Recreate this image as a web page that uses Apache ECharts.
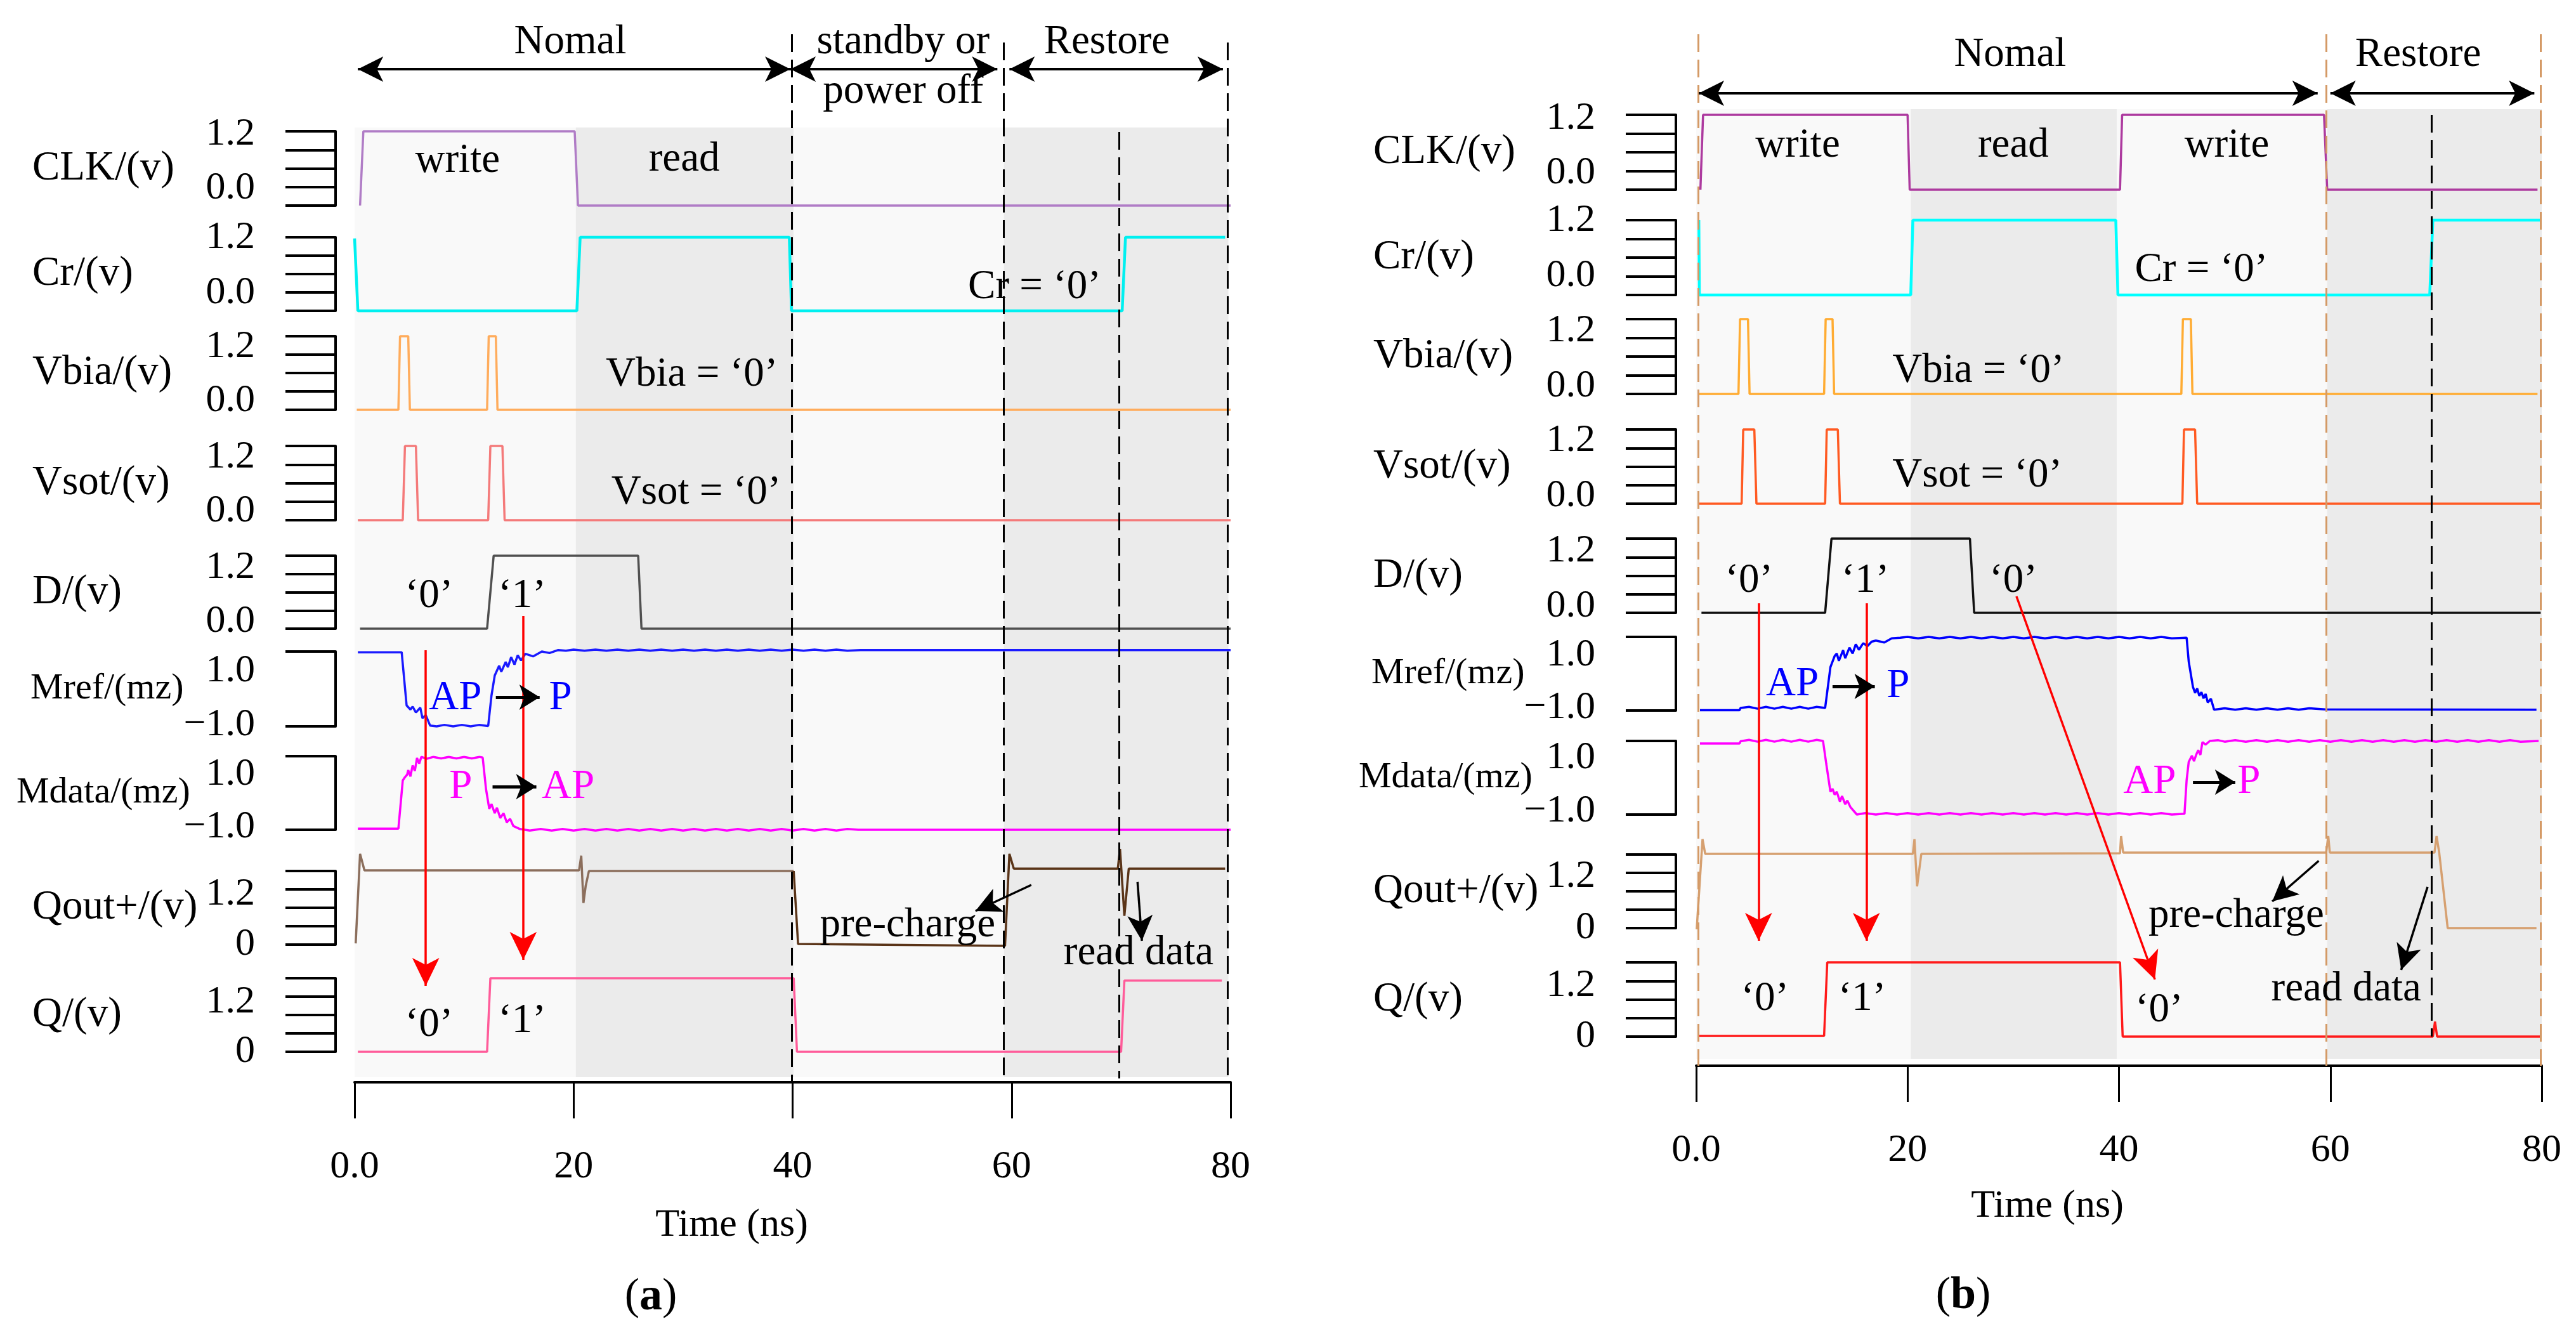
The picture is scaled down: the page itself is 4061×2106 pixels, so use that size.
<!DOCTYPE html>
<html><head><meta charset="utf-8">
<script src="https://cdn.jsdelivr.net/npm/echarts@6.0.0/dist/echarts.min.js"></script>
<style>html,body{margin:0;padding:0;background:#fff}#c{width:4061px;height:2106px}</style>
</head><body><div id="c"></div><script>
const FONT = "'Liberation Serif','Times New Roman',Times,serif";

// ---------------- categories & tick labels ----------------
const signalNames = ['CLK/(v)','Cr/(v)','Vbia/(v)','Vsot/(v)','D/(v)','Mref/(mz)','Mdata/(mz)','Qout+/(v)','Q/(v)'];
const signalKinds = ['v','v','v','v','v','m','m','q','q'];
const yTickLabels = { v:['0.0','1.2'], m:['\u22121.0','1.0'], q:['0','1.2'] };
const yRanges = { v:[0,1.2,0.3], m:[-1,1,2], q:[0,1.2,0.3] };
const timeTicks = [0,20,40,60,80];
const timeTickLabels = ['0.0','20','40','60','80'];
const timeName = 'Time (ns)';

// ---------------- panel (a) signals: [time ns, value] ----------------
const a_CLK = [[0.5,0],[0.8,1.2],[20.1,1.2],[20.4,0],[80,0]];
const a_Cr = [[0,1.18],[0.3,0],[20.3,0],[20.6,1.2],[39.7,1.2],[39.9,0],[70.1,0],[70.4,1.2],[79.5,1.2]];
const a_Vbia = [[0.2,0],[4.0,0],[4.15,1.2],[4.9,1.2],[5.05,0],[12.1,0],[12.25,1.2],[12.9,1.2],[13.05,0],[80,0]];
const a_Vsot = [[0.3,0],[4.4,0],[4.6,1.2],[5.6,1.2],[5.8,0],[12.2,0],[12.4,1.2],[13.5,1.2],[13.7,0],[80,0]];
const a_D = [[0.5,0],[12.1,0],[12.7,1.2],[25.9,1.2],[26.2,0],[80,0]];
const a_Mref = [[0.3,0.98],[4.3,0.98],[4.75,-0.44],[5.1,-0.55],[5.3,-0.47],[5.6,-0.63],[6.0,-0.5],[6.2,-0.78],[6.5,-0.7],[6.9,-0.98],[7.5,-1.0],[8.2,-0.96],[9.0,-1.0],[9.8,-0.96],[10.6,-1.0],[11.4,-0.96],[12.2,-0.99],[12.5,-0.18],[12.8,0.36],[13.2,0.62],[13.4,0.46],[13.8,0.72],[14.0,0.58],[14.3,0.85],[14.6,0.65],[14.9,0.9],[15.2,0.76],[15.6,0.94],[16.3,0.87],[17.1,1.0],[17.8,0.96],[18.6,1.04],[19.3,1.02],[20,1.05],[21,1.02],[22,1.05],[23,1.02],[24,1.05],[25,1.02],[26,1.05],[27,1.02],[28,1.05],[29,1.02],[30,1.05],[31,1.02],[32,1.05],[33,1.02],[34,1.05],[35,1.02],[36,1.05],[37,1.02],[38,1.05],[39,1.02],[40,1.05],[41,1.02],[42,1.05],[43,1.02],[44,1.05],[45,1.02],[46.2,1.04],[80,1.04]];
const a_Mdata = [[0.3,-0.97],[4.0,-0.97],[4.4,0.34],[4.6,0.43],[4.8,0.5],[4.9,0.62],[5.1,0.45],[5.3,0.75],[5.5,0.6],[5.7,0.95],[5.9,0.8],[6.1,0.98],[6.6,0.93],[7.2,0.98],[7.9,0.94],[8.6,0.98],[9.3,0.94],[10.0,0.98],[10.7,0.94],[11.4,0.98],[11.7,0.96],[12.0,0.11],[12.3,-0.43],[12.5,-0.3],[12.8,-0.55],[13.0,-0.4],[13.3,-0.68],[13.6,-0.55],[13.9,-0.8],[14.2,-0.7],[14.5,-0.9],[15.1,-0.98],[16,-1.02],[17,-0.98],[18,-1.02],[19,-0.98],[20,-1.02],[21,-0.98],[22,-1.02],[23,-0.98],[24,-1.02],[25,-0.98],[26,-1.02],[27,-0.98],[28,-1.02],[29,-0.98],[30,-1.02],[31,-0.98],[32,-1.02],[33,-0.98],[34,-1.02],[35,-0.98],[36,-1.02],[37,-0.98],[38,-1.02],[39,-0.98],[40,-1.02],[41,-0.98],[42,-1.02],[43,-0.98],[44,-1.02],[45,-0.98],[46.0,-1.0],[80,-1.0]];
const a_QoutNormal = [[0.1,0.02],[0.5,1.48],[0.9,1.21],[20.5,1.21],[20.7,1.45],[20.9,0.68],[21.1,0.95],[21.4,1.2],[40.1,1.2]];
const a_QoutRestore = [[40.1,1.2],[40.5,0.01],[59.4,-0.02],[59.8,1.48],[60.2,1.24],[69.7,1.24],[69.9,1.56],[70.3,0.47],[70.7,1.24],[79.5,1.24]];
const a_Q = [[0.3,0],[12.1,0],[12.4,1.2],[40.1,1.2],[40.4,0],[70.0,0],[70.3,1.16],[79.2,1.16]];

// ---------------- panel (b) signals ----------------
const b_CLK = [[0.4,0],[0.65,1.2],[20.0,1.2],[20.2,0],[40.1,0],[40.3,1.2],[59.4,1.2],[59.7,0],[79.6,0]];
const b_Cr = [[0.25,1.2],[0.3,0],[20.3,0],[20.5,1.2],[39.7,1.2],[39.9,0],[69.4,0],[69.7,1.2],[80,1.2]];
const b_Vbia = [[0.25,0],[4.0,0],[4.15,1.2],[4.9,1.2],[5.05,0],[12.1,0],[12.25,1.2],[12.9,1.2],[13.05,0],[45.9,0],[46.05,1.2],[46.8,1.2],[46.95,0],[79.6,0]];
const b_Vsot = [[0.3,0],[4.3,0],[4.45,1.2],[5.5,1.2],[5.7,0],[12.2,0],[12.35,1.2],[13.4,1.2],[13.6,0],[46.0,0],[46.15,1.2],[47.2,1.2],[47.4,0],[79.9,0]];
const b_D = [[0.5,0],[12.2,0],[12.8,1.2],[25.9,1.2],[26.3,0],[79.9,0]];
const b_Mref = [[0.36,-0.99],[4.1,-0.99],[4.2,-0.93],[5,-0.9],[5.8,-0.95],[6.6,-0.9],[7.4,-0.95],[8.2,-0.9],[9,-0.95],[9.8,-0.9],[10.6,-0.95],[11.4,-0.9],[12.2,-0.93],[12.7,0.18],[13.1,0.48],[13.3,0.55],[13.5,0.35],[13.9,0.64],[14.1,0.42],[14.5,0.71],[14.8,0.55],[15.1,0.8],[15.4,0.65],[15.8,0.83],[16.2,0.75],[16.6,0.87],[17.0,0.9],[17.8,0.85],[18.5,0.96],[19.3,0.98],[20,1.0],[21,0.96],[22,1.0],[23,0.96],[24,1.0],[25,0.96],[26,1.0],[27,0.96],[28,1.0],[29,0.96],[30,1.0],[31,0.96],[32,1.0],[33,0.96],[34,1.0],[35,0.96],[36,1.0],[37,0.96],[38,1.0],[39,0.96],[40,1.0],[41,0.96],[42,1.0],[43,0.96],[44,1.0],[45,0.96],[46.4,0.98],[46.6,0.33],[47.0,-0.36],[47.2,-0.52],[47.4,-0.4],[47.6,-0.6],[47.8,-0.5],[48.0,-0.67],[48.2,-0.55],[48.4,-0.78],[48.7,-0.68],[49.0,-0.98],[50,-0.94],[51,-0.98],[52,-0.94],[53,-0.98],[54,-0.94],[55,-0.98],[56,-0.94],[57,-0.98],[58,-0.94],[59.5,-0.97],[79.5,-0.98]];
const b_Mdata = [[0.36,0.93],[4.1,0.93],[4.2,0.99],[5,1.03],[5.8,0.98],[6.6,1.03],[7.4,0.98],[8.2,1.03],[9,0.98],[9.8,1.03],[10.6,0.98],[11.4,1.03],[12.0,1.0],[12.3,0.39],[12.7,-0.38],[12.9,-0.3],[13.1,-0.46],[13.3,-0.38],[13.6,-0.65],[13.8,-0.5],[14.1,-0.72],[14.3,-0.62],[14.6,-0.8],[15.2,-1.0],[16,-0.96],[17,-1.0],[18,-0.96],[19,-1.0],[20,-0.96],[21,-1.0],[22,-0.96],[23,-1.0],[24,-0.96],[25,-1.0],[26,-0.96],[27,-1.0],[28,-0.96],[29,-1.0],[30,-0.96],[31,-1.0],[32,-0.96],[33,-1.0],[34,-0.96],[35,-1.0],[36,-0.96],[37,-1.0],[38,-0.96],[39,-1.0],[40,-0.96],[41,-1.0],[42,-0.96],[43,-1.0],[44,-0.96],[45,-1.0],[46.2,-0.98],[46.4,-0.07],[46.6,0.43],[46.9,0.6],[47.1,0.45],[47.3,0.62],[47.5,0.75],[47.7,0.62],[47.9,0.97],[48.2,0.9],[48.6,1.0],[49.4,1.02],[50,0.98],[51,1.02],[52,0.98],[53,1.02],[54,0.98],[55,1.02],[56,0.98],[57,1.02],[58,0.98],[59,1.02],[60,0.98],[61,1.02],[62,0.98],[63,1.02],[64,0.98],[65,1.02],[66,0.98],[67,1.02],[68,0.98],[69,1.02],[70,0.98],[71,1.02],[72,0.98],[73,1.02],[74,0.98],[75,1.02],[76,0.98],[77,1.02],[78,0.98],[79.7,1.0]];
const b_Qout = [[0.05,-0.02],[0.6,1.45],[0.85,1.21],[20.5,1.21],[20.65,1.45],[20.9,0.68],[21.3,1.21],[40.1,1.22],[40.2,1.5],[40.4,1.23],[59.6,1.23],[59.8,1.5],[59.95,1.23],[69.85,1.23],[70.05,1.5],[70.3,1.23],[71.1,0],[79.5,0]];
const b_Q = [[0.25,0.01],[12.1,0.01],[12.4,1.2],[40.1,1.2],[40.35,0],[69.7,0],[69.9,0.24],[70.1,0],[80,0]];

// ---------------- layout (positions / styles only) ----------------
const nameFontSize = { v:65, m:58, q:65 };
const panels = [
 { left:559, width:1381, axisY:1706, spineOffset:30, timeNameShift:-96, timeNameGap:226,
   shadeY:[201,1698],
   shades:[[0,20.2,'#f9f9f9'],[20.2,40.1,'#ebebeb'],[40.1,59.3,'#f9f9f9'],[59.3,79.8,'#ebebeb']],
   // top, bottom, nameLeftX, nameDy, labelTopDy, labelBottomDy
   rows:[[207,324,51,-2,5,-27],[374,490,51,-17,1,-28],[530,646,51,-3,17,-14],[703,820,51,-15,18,-14],[876,991,51,-17,19,-11],[1027,1145,48,-1,31,-2],[1192,1308,26,-6,29,-4],[1373,1489,51,-15,37,6],[1542,1658,51,-15,38,8]],
   series:[[0,a_CLK,'#b07cc6',3.5],[1,a_Cr,'#00f0f0',4.5],[2,a_Vbia,'#ffac5c',3.5],[3,a_Vsot,'#f47a7a',3.5],[4,a_D,'#505050',3.5],[5,a_Mref,'#1a1aff',3.5],[6,a_Mdata,'#ff00ff',3.5],[7,a_QoutNormal,'#8b6e5c',3.5],[7,a_QoutRestore,'#5a3418',3.5],[8,a_Q,'#ff5c9a',3.5]],
   dashes:[[-0.3,71,1706,'#444'],[39.9,54,1706,'#000'],[59.3,67,1706,'#000'],[79.7,67,1706,'#000'],[69.8,208,1700,'#000']],
   headerArrows:[[0.3,39.8,109],[39.8,58.7,109],[59.8,79.3,109]],
   redArrows:[[6.5,1025,6.5,1554,0],[15.4,971,15.4,1513,0]],
   blackArrows:[[12.9,1099,16.9,1099,'s'],[12.6,1240,16.6,1240,'s'],[61.8,1395,56.7,1436,'l'],[71.5,1390,71.9,1483,'l']],
   texts:[['Nomal',19.7,67],['standby or',50.1,67],['power off',50.1,145],['Restore',68.7,67],
     ['write',9.4,254],['read',30.1,252],['Cr = \u20180\u2019',62.1,453],['Vbia = \u20180\u2019',30.8,591],['Vsot = \u20180\u2019',31.2,777],
     ['\u20180\u2019',6.8,940],['\u20181\u2019',15.3,940],
     ['AP',9.2,1101,'#0000ff'],['P',18.8,1101,'#0000ff'],['P',9.7,1241,'#ff00ff'],['AP',19.5,1241,'#ff00ff'],
     ['\u20180\u2019',6.8,1616],['\u20181\u2019',15.3,1610],['pre-charge',50.5,1459],['read data',71.6,1503]],
   tag:['a',1026,2045]
 },
 { left:2674, width:1333, axisY:1680, spineOffset:32, timeNameShift:-113, timeNameGap:222,
   shadeY:[172,1669],
   shades:[[0,20.3,'#f9f9f9'],[20.3,39.8,'#ebebeb'],[39.8,59.7,'#f9f9f9'],[59.7,80,'#ebebeb']],
   rows:[[181,299,2165,-3,6,-26],[347,465,2165,-15,1,-30],[503,621,2165,-2,19,-12],[677,794,2165,-16,18,-12],[849,966,2165,-16,20,-10],[1004,1120,2162,-4,29,-4],[1168,1284,2142,-5,27,-5],[1347,1463,2165,-15,35,4],[1517,1634,2165,-15,37,5]],
   series:[[0,b_CLK,'#ad3a9f',3.5],[1,b_Cr,'#00ffff',4.5],[2,b_Vbia,'#ffac33',3.5],[3,b_Vsot,'#ff5a22',3.5],[4,b_D,'#111111',3.5],[5,b_Mref,'#0000ff',3.5],[6,b_Mdata,'#ff00ff',3.5],[7,b_Qout,'#d6a070',3.5],[8,b_Q,'#ff1a1a',3.5]],
   dashes:[[0.2,54,1680,'#d49a66'],[59.6,54,1680,'#d49a66'],[79.9,54,1680,'#d49a66'],[69.6,181,1634,'#000']],
   headerArrows:[[0.24,58.8,147],[60.0,79.3,147]],
   redArrows:[[5.9,951,5.9,1483,0],[16.1,951,16.1,1483,0],[30.3,940,43.4,1544,0.06]],
   blackArrows:[[12.9,1082,16.9,1082,'s'],[47.0,1233,51.0,1233,'s'],[58.9,1357,54.5,1421,'l'],[69.2,1398,66.7,1529,'l']],
   texts:[['Nomal',29.7,87],['Restore',68.3,87],
     ['write',9.6,230],['read',30.0,230],['write',50.2,230],['Cr = \u20180\u2019',47.8,426],['Vbia = \u20180\u2019',26.7,585],['Vsot = \u20180\u2019',26.6,750],
     ['\u20180\u2019',5.0,916],['\u20181\u2019',16.0,916],['\u20180\u2019',30.0,916],
     ['AP',9.1,1079,'#0000ff'],['P',19.1,1082,'#0000ff'],['AP',42.9,1233,'#ff00ff'],['P',52.3,1233,'#ff00ff'],
     ['\u20180\u2019',6.5,1575],['\u20181\u2019',15.7,1575],['\u20180\u2019',43.8,1593],['pre-charge',51.1,1444],['read data',61.5,1560]],
   tag:['b',3095,2043]
 }
];

// ---------------- build option ----------------
const grids=[], xAxes=[], yAxes=[], series=[], graphic=[];
panels.forEach(p => {
  const rowIdx = [];
  p.rows.forEach((r, i) => {
    const [top, bottom, nameX, nameDy, labT, labB] = r;
    const kind = signalKinds[i];
    const [mn, mx, itv] = yRanges[kind];
    const h = bottom - top, rng = mx - mn;
    const vTop = Math.min(mx, mx - labT / h * rng);
    const vBot = Math.max(mn, mn - labB / h * rng);
    const gi = grids.length; rowIdx.push(gi);
    grids.push({left:p.left, width:p.width, top:top, height:h, containLabel:false, outerBoundsMode:'none'});
    xAxes.push({gridIndex:gi, type:'value', min:0, max:80, show:false});
    const spineX = p.left - p.spineOffset;
    const eps = rng * 1e-4;
    yAxes.push({
      gridIndex:gi, type:'value', min:mn, max:mx, interval:itv, offset:p.spineOffset,
      axisLine:{show:true, onZero:false, lineStyle:{color:'#000', width:4}},
      axisTick:{show:true, inside:false, length:79, lineStyle:{color:'#000', width:4}},
      splitLine:{show:false},
      axisLabel:{show:true, customValues:[vBot, vTop], margin:127, fontSize:62, fontFamily:FONT, color:'#000',
        formatter:(v)=> Math.abs(v - vTop) < eps ? yTickLabels[kind][1] : (Math.abs(v - vBot) < eps ? yTickLabels[kind][0] : '')},
      name: signalNames[i], nameLocation:'middle', nameRotate:0, nameGap: spineX - nameX, nameMoveOverlap:false,
      nameTextStyle:{align:'left', verticalAlign:'middle', fontSize:nameFontSize[kind], fontFamily:FONT, color:'#000',
        padding: nameDy < 0 ? [0,0,-2*nameDy,0] : [2*nameDy,0,0,0]}
    });
  });
  p.series.forEach(([row, data, color, width]) => {
    const gi = rowIdx[row];
    series.push({type:'line', xAxisIndex:gi, yAxisIndex:gi, data:data, showSymbol:false, symbol:'none',
      clip:false, silent:true, z:3, lineStyle:{color:color, width:width}});
  });
  // frame grid: bottom time axis + overlays (y values in page pixels)
  const fi = grids.length;
  grids.push({left:p.left, width:p.width, top:0, height:p.axisY, containLabel:false, outerBoundsMode:'none'});
  xAxes.push({gridIndex:fi, type:'value', min:0, max:80, interval:20,
    axisLine:{show:true, onZero:false, lineStyle:{color:'#000', width:4}},
    axisTick:{show:true, inside:false, length:57, lineStyle:{color:'#000', width:3}},
    splitLine:{show:false},
    axisLabel:{margin:134, verticalAlign:'middle', fontSize:62, fontFamily:FONT, color:'#000',
      formatter:(v)=>{const k=timeTicks.indexOf(v); return k>=0?timeTickLabels[k]:'';}},
    name:timeName, nameLocation:'middle', nameGap:p.timeNameGap, nameMoveOverlap:false,
    nameTextStyle:{fontSize:62, fontFamily:FONT, color:'#000', verticalAlign:'middle',
      padding: p.timeNameShift < 0 ? [0,-2*p.timeNameShift,0,0] : [0,0,0,2*p.timeNameShift]}
  });
  yAxes.push({gridIndex:fi, type:'value', min:0, max:p.axisY, inverse:true, show:false});
  // background shading
  series.push({type:'line', xAxisIndex:fi, yAxisIndex:fi, data:[], z:0, silent:true,
    markArea:{silent:true, data:p.shades.map(([t1,t2,c]) => [{coord:[t1,p.shadeY[0]], itemStyle:{color:c}}, {coord:[t2,p.shadeY[1]]}])}});
  // overlays
  const lines = [];
  p.dashes.forEach(([t,y1,y2,c]) => lines.push([{coord:[t,y1], symbol:'none', lineStyle:{color:c, width:3, type:[28,12]}}, {coord:[t,y2], symbol:'none'}]));
  p.headerArrows.forEach(([t1,t2,y]) => lines.push([{coord:[t1,y], symbol:'arrow', symbolSize:[30,40], lineStyle:{color:'#000', width:4, type:'solid'}}, {coord:[t2,y], symbol:'arrow', symbolSize:[30,40]}]));
  p.redArrows.forEach(([t1,y1,t2,y2,cv]) => lines.push([{coord:[t1,y1], symbol:'none', lineStyle:{color:'#ff0000', width:3.5, type:'solid', curveness:cv}}, {coord:[t2,y2], symbol:'arrow', symbolSize:[32,44]}]));
  p.blackArrows.forEach(([t1,y1,t2,y2,k]) => lines.push([{coord:[t1,y1], symbol:'none', lineStyle:{color:'#000', width:k==='s'?5:3.5, type:'solid'}}, {coord:[t2,y2], symbol:'arrow', symbolSize:k==='s'?[30,32]:[30,40]}]));
  const points = p.texts.map(([txt,t,y,c]) => ({coord:[t,y], symbol:'circle', symbolSize:0, itemStyle:{color:'rgba(0,0,0,0)'},
    label:{show:true, position:'inside', formatter:txt, color:c||'#000', fontSize:65, fontFamily:FONT}}));
  series.push({type:'line', xAxisIndex:fi, yAxisIndex:fi, data:[], z:10, silent:true,
    markLine:{silent:true, animation:false, label:{show:false}, symbol:['none','none'], data:lines},
    markPoint:{silent:true, animation:false, symbol:'circle', symbolSize:0, data:points}});
  graphic.push({type:'text', x:p.tag[1], y:p.tag[2], style:{text:'({b|'+p.tag[0]+'})', font:'70px '+FONT, fill:'#000', align:'center', verticalAlign:'middle',
    rich:{b:{fontWeight:'bold', fontSize:72, fontFamily:FONT, fill:'#000'}}}});
});

const chart = echarts.init(document.getElementById('c'), null, {renderer:'canvas', width:4061, height:2106});
chart.setOption({
  animation:false, backgroundColor:'#ffffff', textStyle:{fontFamily:FONT},
  grid:grids, xAxis:xAxes, yAxis:yAxes, series:series, graphic:graphic
});
</script></body></html>
